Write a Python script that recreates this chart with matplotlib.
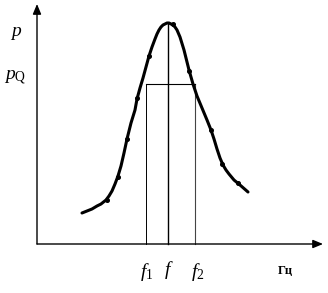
import matplotlib
matplotlib.use("Agg")
import matplotlib.pyplot as plt

plt.rcParams['font.family'] = 'Liberation Serif'
plt.rcParams['mathtext.fontset'] = 'custom'
plt.rcParams['mathtext.rm'] = 'Liberation Serif'
plt.rcParams['mathtext.it'] = 'Liberation Serif:italic'

# resonance curve (frequency, amplitude), arbitrary units
freq = [45, 50, 55, 60, 64, 69, 72, 75, 78, 81, 84, 87, 90, 94, 98, 100, 103, 106,
        109, 112, 115, 118, 120, 122, 124, 126, 128, 130, 132, 134, 136, 138,
        140, 143, 147, 152, 156, 160, 165, 170, 174, 177, 180, 183, 186, 189,
        192, 197, 203, 211]
amp = [31, 33, 35, 38, 40, 44, 48, 53, 60, 68, 78, 91, 105, 121, 134, 145, 156, 166,
       177, 188, 197, 205, 210, 214, 217, 219, 220, 221, 221, 220, 219, 217,
       214, 207, 194, 174, 160, 148, 136, 124, 114, 105, 95, 86, 79, 74,
       70, 64, 59, 52]

# measured points
freq_pts = [70, 81, 90, 100, 112, 136, 152, 174, 185, 201]
amp_pts = [44, 67, 105, 146, 188, 220, 173, 114, 80, 61]

f1, f0, f2 = 109, 131, 158
p_q = 160
p_max = 221

fig = plt.figure(figsize=(3.28, 2.93), dpi=100)
ax = fig.add_axes([0, 0, 1, 1])
ax.set_xlim(-37, 291)
ax.set_ylim(-49, 244)
ax.axis('off')

# axes with arrows
arrow = dict(arrowstyle='-|>,head_length=0.6,head_width=0.25', color='black',
             lw=1.0, shrinkA=0, shrinkB=0)
ax.annotate('', xy=(0, 240), xytext=(0, 0), arrowprops=arrow)
ax.annotate('', xy=(286, 0), xytext=(0, 0), arrowprops=arrow)

# frequency markers
ax.plot([f1, f1], [0, p_q], color='black', lw=0.7)
ax.plot([f2, f2], [0, p_q], color='#444444', lw=0.8)
ax.plot([f0, f0], [0, p_max], color='black', lw=1.0)
ax.plot([f1, f2], [p_q, p_q], color='black', lw=0.8)

ax.plot(freq, amp, color='black', lw=2.2, solid_joinstyle='round',
        solid_capstyle='round')
ax.plot(freq_pts, amp_pts, 'o', color='black', ms=2.6)

ax.text(-21, 210, r'$p$', fontsize=14, ha='center', va='center')
ax.text(-22, 166, r'$p_{\mathrm{Q}}$', fontsize=14, ha='center', va='center')
ax.text(110, -28, r'$f_1$', fontsize=14, ha='center', va='center')
ax.text(132, -26, r'$f$', fontsize=14, ha='center', va='center')
ax.text(161, -28, r'$f_2$', fontsize=14, ha='center', va='center')
ax.text(248, -27, 'Гц', fontsize=9, fontweight='bold', ha='center', va='center')

fig.savefig('out.png', dpi=100)
